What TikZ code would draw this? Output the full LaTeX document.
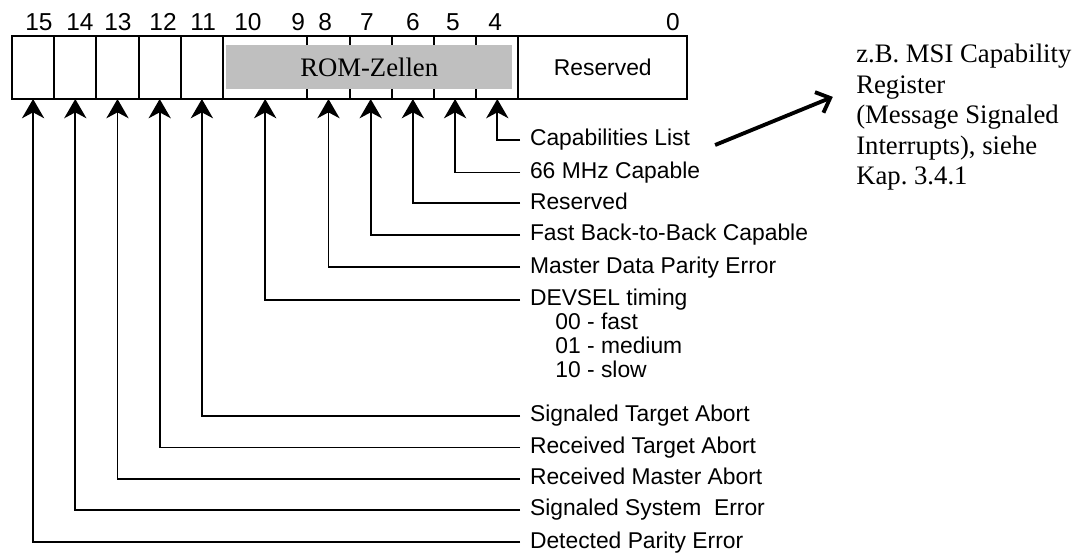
\documentclass[tikz,border=0pt]{standalone}
\usepackage{fontspec}
\setmainfont{Liberation Serif}
\setsansfont{Liberation Sans}
\usetikzlibrary{arrows.meta}
\frenchspacing

\begin{document}
\begin{tikzpicture}[
    bitnum/.style={font=\sffamily\fontsize{16.5}{19}\selectfont, inner sep=0pt},
    feld/.style={font=\sffamily\fontsize{15.4}{18}\selectfont, anchor=west,
      inner xsep=6.5pt, inner ysep=0pt, text height=11pt, text depth=3pt},
    pfeil/.style={line width=1.2pt, -{Stealth[length=13pt, width=15pt, inset=4pt]}},
    zeiger/.style={line width=2.6pt, -{Straight Barb[length=8pt, width=15pt]}},
  ]
  \useasboundingbox (-0.284,-10.83) rectangle (25.45,2.346);

  % Status register
  \draw[line width=1.3pt] (0,0) rectangle (16,1.5);
  \draw[line width=1.3pt] (1,0) -- (1,1.5);
  \draw[line width=1.3pt] (2,0) -- (2,1.5);
  \draw[line width=1.3pt] (3,0) -- (3,1.5);
  \draw[line width=1.3pt] (4,0) -- (4,1.5);
  \draw[line width=1.3pt] (5,0) -- (5,1.5);
  \draw[line width=1.3pt] (7,0) -- (7,1.5);
  \draw[line width=1.3pt] (8,0) -- (8,1.5);
  \draw[line width=1.3pt] (9,0) -- (9,1.5);
  \draw[line width=1.3pt] (10,0) -- (10,1.5);
  \draw[line width=1.3pt] (11,0) -- (11,1.5);
  \draw[line width=1.3pt] (12,0) -- (12,1.5);
  \node[fill=gray!50, minimum width=6.77cm, minimum height=1.06cm,
    font=\rmfamily\fontsize{18}{21}\selectfont] (rom) at (8.465,0.76) {ROM-Zellen};
  \node[font=\sffamily\fontsize{15.4}{18}\selectfont] (res) at (14,0.75) {Reserved};

  % Bit numbers
  \node[bitnum] (n15) at (0.64,1.82) {15};
  \node[bitnum] (n14) at (1.61,1.82) {14};
  \node[bitnum] (n13) at (2.51,1.82) {13};
  \node[bitnum] (n12) at (3.58,1.82) {12};
  \node[bitnum] (n11) at (4.53,1.82) {11};
  \node[bitnum] (n10) at (5.59,1.82) {10};
  \node[bitnum] (n9) at (6.78,1.82) {9};
  \node[bitnum] (n8) at (7.42,1.82) {8};
  \node[bitnum] (n7) at (8.41,1.82) {7};
  \node[bitnum] (n6) at (9.50,1.82) {6};
  \node[bitnum] (n5) at (10.45,1.82) {5};
  \node[bitnum] (n4) at (11.45,1.82) {4};
  \node[bitnum] (n0) at (15.66,1.82) {0};

  % Bit positions at the lower edge
  \coordinate (b15) at (0.5,0);
  \coordinate (b14) at (1.5,0);
  \coordinate (b13) at (2.5,0);
  \coordinate (b12) at (3.5,0);
  \coordinate (b11) at (4.5,0);
  \coordinate (b10) at (6,0);
  \coordinate (b8) at (7.5,0);
  \coordinate (b7) at (8.5,0);
  \coordinate (b6) at (9.5,0);
  \coordinate (b5) at (10.5,0);
  \coordinate (b4) at (11.5,0);

  % Field names
  \node[feld] (l4) at (12.04,-0.97) {Capabilities List};
  \node[feld] (l5) at (12.04,-1.74) {66 MHz Capable};
  \node[feld] (l6) at (12.04,-2.47) {Reserved};
  \node[feld] (l7) at (12.04,-3.22) {Fast Back-to-Back Capable};
  \node[feld] (l8) at (12.04,-3.99) {Master Data Parity Error};
  \node[feld] (l10) at (12.04,-4.76) {DEVSEL timing};
  \node[feld] (t0) at (12.64,-5.31) {00 - fast};
  \node[feld] (t1) at (12.64,-5.88) {01 - medium};
  \node[feld] (t2) at (12.64,-6.47) {10 - slow};
  \node[feld] (l11) at (12.04,-7.51) {Signaled Target Abort};
  \node[feld] (l12) at (12.04,-8.26) {Received Target Abort};
  \node[feld] (l13) at (12.04,-9.0) {Received Master Abort};
  \node[feld] (l14) at (12.04,-9.74) {Signaled System~ Error};
  \node[feld] (l15) at (12.04,-10.5) {Detected Parity Error};

  % Leader lines
  \draw[pfeil] (l4.west) -| (b4);
  \draw[pfeil] (l5.west) -| (b5);
  \draw[pfeil] (l6.west) -| (b6);
  \draw[pfeil] (l7.west) -| (b7);
  \draw[pfeil] (l8.west) -| (b8);
  \draw[pfeil] (l10.west) -| (b10);
  \draw[pfeil] (l11.west) -| (b11);
  \draw[pfeil] (l12.west) -| (b12);
  \draw[pfeil] (l13.west) -| (b13);
  \draw[pfeil] (l14.west) -| (b14);
  \draw[pfeil] (l15.west) -| (b15);

  % Note on the capabilities list
  \node[font=\rmfamily\fontsize{18}{20.6}\selectfont, anchor=north west,
    align=left, inner sep=0pt] (msi) at (20.0,1.31)
    {z.B. MSI Capability\\Register\\(Message Signaled\\Interrupts), siehe\\Kap. 3.4.1};
  \draw[zeiger] ([shift={(0.36,-0.12)}]l4.east) -- ([shift={(-0.55,-1.26)}]msi.north west);
\end{tikzpicture}
\end{document}
